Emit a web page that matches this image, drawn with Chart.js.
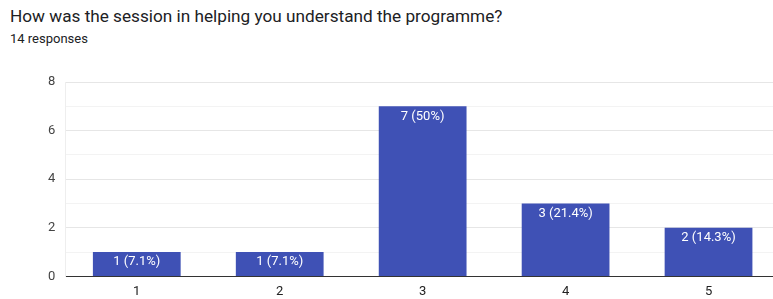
<!DOCTYPE html>
<html>
<head>
<meta charset="utf-8">
<script src="https://cdn.jsdelivr.net/npm/chart.js@4/dist/chart.umd.min.js"></script>
<style>
  html, body { margin:0; padding:0; background:#fff; overflow:hidden; width:773px; height:299px; }
  #title { position:absolute; left:10px; top:6px; font-family:Roboto, sans-serif; font-size:17.2px; color:#202124; white-space:nowrap; }
  #sub { position:absolute; left:10px; top:31px; font-family:Roboto, sans-serif; font-size:13px; color:#202124; white-space:nowrap; }
  #wrap { position:absolute; left:0; top:0; width:800px; height:308px; }
</style>
</head>
<body>
<div id="title">How was the session in helping you understand the programme?</div>
<div id="sub">14 responses</div>
<div id="wrap"><canvas id="c"></canvas></div>
<script>
const categories = ["1", "2", "3", "4", "5"];
const counts = [1, 1, 7, 3, 2];
const total = 14;
const barLabels = ["1 (7.1%)", "1 (7.1%)", "7 (50%)", "3 (21.4%)", "2 (14.3%)"];
const yTicks = [0, 2, 4, 6, 8];

const labelPlugin = {
  id: 'barLabels',
  afterDatasetsDraw(chart) {
    const ctx = chart.ctx;
    const meta = chart.getDatasetMeta(0);
    ctx.save();
    ctx.font = '13px Roboto, sans-serif';
    ctx.fillStyle = '#ffffff';
    ctx.textAlign = 'center';
    ctx.textBaseline = 'middle';
    meta.data.forEach((bar, i) => {
      ctx.fillText(barLabels[i], bar.x, bar.y + 10);
    });
    ctx.restore();
  }
};

new Chart(document.getElementById('c'), {
  type: 'bar',
  data: {
    labels: categories,
    datasets: [{
      data: counts,
      backgroundColor: '#3f51b5',
      borderWidth: 0,
      barPercentage: 0.614,
      categoryPercentage: 1.0
    }]
  },
  options: {
    responsive: true,
    maintainAspectRatio: false,
    animation: false,
    layout: { padding: { top: 82, left: 38, right: 20, bottom: 0 } },
    plugins: { legend: { display: false }, tooltip: { enabled: false } },
    scales: {
      x: {
        grid: { display: false, drawTicks: false },
        border: { display: true, color: '#333333', width: 1 },
        ticks: { color: '#222222', font: { family: 'Roboto', size: 13 }, padding: 8 }
      },
      y: {
        min: 0, max: 8,
        ticks: {
          stepSize: 1,
          color: '#444444',
          font: { family: 'Roboto', size: 13 },
          padding: 10,
          callback: (v) => yTicks.includes(v) ? String(v) : ''
        },
        grid: {
          drawTicks: false,
          color: (c) => (c.tick && c.tick.value % 2 === 0) ? '#e6e6e6' : '#f3f3f3'
        },
        border: { display: true, color: '#eeeeee' }
      }
    }
  },
  plugins: [labelPlugin]
});
</script>
</body>
</html>
